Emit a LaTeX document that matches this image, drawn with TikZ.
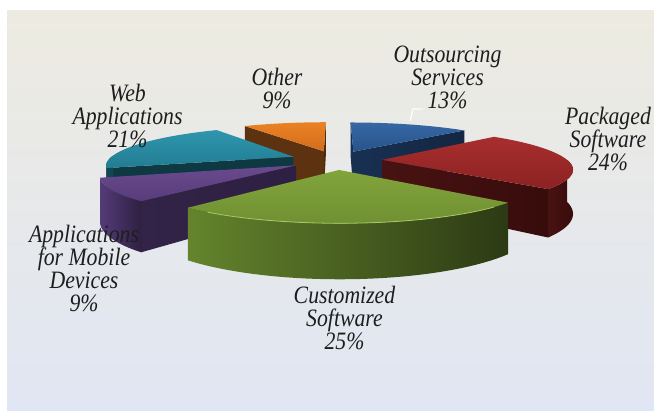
\documentclass[tikz,border=0pt]{standalone}
\usepackage{fontspec}
\newfontfamily\lblfont[FakeStretch=0.87]{Liberation Serif}

\definecolor{bgTop}{RGB}{237,235,225}
\definecolor{bgMid}{RGB}{197,211,236}
\definecolor{bgBot}{RGB}{224,230,243}
\definecolor{bluTop}{RGB}{54,104,164}
\definecolor{bluTopB}{RGB}{40,82,138}
\definecolor{bluSide}{RGB}{24,48,82}
\definecolor{redTop}{RGB}{168,46,46}
\definecolor{redTopB}{RGB}{140,34,34}
\definecolor{redSideL}{RGB}{72,18,18}
\definecolor{redSideR}{RGB}{56,12,12}
\definecolor{grnTop}{RGB}{130,164,60}
\definecolor{grnTopB}{RGB}{112,144,50}
\definecolor{grnSideL}{RGB}{100,132,44}
\definecolor{grnSideR}{RGB}{44,58,20}
\definecolor{grnHi}{RGB}{170,200,104}
\definecolor{purTop}{RGB}{106,74,142}
\definecolor{purTopB}{RGB}{88,60,122}
\definecolor{purWall}{RGB}{84,60,120}
\definecolor{purSide}{RGB}{46,32,66}
\definecolor{tealTop}{RGB}{46,150,174}
\definecolor{tealTopB}{RGB}{34,124,146}
\definecolor{tealSide}{RGB}{14,56,66}
\definecolor{orgTop}{RGB}{234,130,36}
\definecolor{orgTopB}{RGB}{210,108,28}
\definecolor{orgSide}{RGB}{92,50,16}
\definecolor{lblText}{RGB}{30,30,30}

\tikzset{
  lbl/.style={font=\lblfont\itshape\fontsize{25}{23}\selectfont, align=center, inner sep=0pt, text=lblText},
  leader/.style={draw=white, line width=1.2pt},
  topface/.style 2 args={top color=#1, bottom color=#2},
  wallface/.style 2 args={left color=#1, right color=#2},
}

% slice parts: top face, outer wall, radial side
\newcommand\pietop[4]{\path[#1] ({piex(0,0,#4)},{piey(0,0,#4,0)}) -- plot[domain=#2:#3,samples=36,variable=\t] ({piex(1,\t,#4)},{piey(1,\t,#4,0)}) -- cycle;}
\newcommand\piewall[4]{\path[#1] plot[domain=#2:#3,samples=36,variable=\t] ({piex(1,\t,#4)},{piey(1,\t,#4,0)}) -- plot[domain=#3:#2,samples=36,variable=\t] ({piex(1,\t,#4)},{piey(1,\t,#4,1)}) -- cycle;}
\newcommand\pieside[3]{\path[#1] ({piex(0,0,#3)},{piey(0,0,#3,0)}) -- ({piex(1,#2,#3)},{piey(1,#2,#3,0)}) -- ({piex(1,#2,#3)},{piey(1,#2,#3,1)}) -- ({piex(0,0,#3)},{piey(0,0,#3,1)}) -- cycle;}

\begin{document}
\begin{tikzpicture}[x=1pt, y=-1pt,
    declare function={
      pieu(\rd,\an,\md)=\rd*sin(\an)+0.25*sin(\md);
      piev(\rd,\an,\md)=\rd*cos(\an)+0.25*cos(\md);
      piex(\rd,\an,\md)=336+185*pieu(\rd,\an,\md)/(1+0.2*piev(\rd,\an,\md));
      piey(\rd,\an,\md,\zz)=160+(42*\zz-38*piev(\rd,\an,\md))/(1+0.2*piev(\rd,\an,\md));
    }]
  \useasboundingbox (0,0) rectangle (654,411);
  \fill[white] (0,0) rectangle (654,411);
  \shade[top color=bgTop, middle color=bgMid, bottom color=bgBot] (7,11) rectangle (654,411);

  % Outsourcing Services
  \pieside{fill=bluSide}{0}{23.2}
  \pieside{wallface={bluSide}{bluSide!80!black}}{46.3}{23.2}
  \pietop{topface={bluTop}{bluTopB}}{0}{46.3}{23.2}
  % Other
  \pieside{fill=orgSide}{327.9}{344}
  \pieside{fill=orgSide!85!black}{360}{344}
  \pietop{topface={orgTop}{orgTopB}}{327.9}{360}{344}
  % Web Applications
  \pieside{fill=tealSide}{253.1}{290.5}
  \piewall{fill=tealSide!80!tealTopB}{253.1}{272}{290.5}
  \pietop{topface={tealTop}{tealTopB}}{253.1}{327.9}{290.5}
  % Packaged Software
  \piewall{wallface={redSideL}{redSideR}}{90}{131.9}{89.1}
  \pieside{wallface={redSideL}{redSideR}}{131.9}{89.1}
  \pietop{topface={redTop}{redTopB}}{46.3}{131.9}{89.1}
  % Applications for Mobile Devices
  \pieside{wallface={purSide!90!purWall}{purSide}}{221}{237}
  \piewall{wallface={purWall}{purSide}}{221}{253.1}{237}
  \pietop{topface={purTop}{purTopB}}{221}{253.1}{237}
  % Customized Software
  \piewall{wallface={grnSideL}{grnSideR}}{131.9}{221}{176.4}
  \pietop{topface={grnTop}{grnTopB}}{131.9}{221}{176.4}
  \draw[grnHi, line width=0.8pt] plot[domain=138:214,samples=30,variable=\t] ({piex(1,\t,176.4)},{piey(1,\t,176.4,0)});

  \node[lbl] (outs) at (447.5,77.5) {Outsourcing\\Services\\13\%};
  \node[lbl] (pack) at (608,138.5) {Packaged\\Software\\24\%};
  \node[lbl] (other) at (277,88) {Other\\9\%};
  \node[lbl] (web) at (127.5,115.5) {Web\\Applications\\21\%};
  \node[lbl] (mobile) at (84,268) {Applications\\for Mobile\\Devices\\9\%};
  \node[lbl] (cust) at (344.5,318) {Customized\\Software\\25\%};

  \coordinate (outsKnee) at (413,109);
  \coordinate (outsTip) at (410,121);
  \draw[leader] (outs.south) ++(-24.5,0) -- (outsKnee) -- (outsTip);
\end{tikzpicture}
\end{document}
